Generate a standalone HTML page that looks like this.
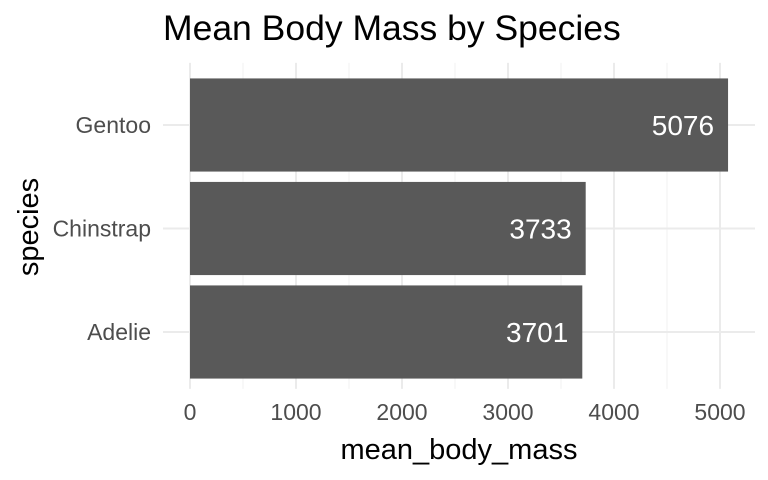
<!DOCTYPE html>
<html><head><meta charset="utf-8"><style>
body{margin:0;background:#fff;}
svg{display:block;font-family:"Liberation Sans",Arial,sans-serif;}
</style></head><body>
<svg id="chart" width="768" height="480" viewBox="0 0 768 480">
<text x="163" y="40" font-size="35.5" fill="#000">Mean Body Mass by Species</text>
<g id="grid"></g><g id="bars"></g><g id="labels"></g>
<text x="459" y="459" font-size="29" text-anchor="middle" fill="#000">mean_body_mass</text>
<text transform="translate(38,227) rotate(-90)" font-size="29" text-anchor="middle" fill="#000">species</text>
</svg>
<script>
const categories = ["Adelie","Chinstrap","Gentoo"];
const values = [3701,3733,5076];
const xTicks = [0,1000,2000,3000,4000,5000];
const xMinor = [500,1500,2500,3500,4500];
const NS="http://www.w3.org/2000/svg";
const x0=190, pxPer=0.106, pLeft=163, pRight=755;
const step=103.5, firstCenter=332;
const pTop=firstCenter-step*(categories.length-1)-step*0.6, pBottom=firstCenter+step*0.55;
function xs(v){return x0+v*pxPer;}
function ys(i){return firstCenter-step*i;}
function mk(tag,attrs,parent){const e=document.createElementNS(NS,tag);for(const k in attrs)e.setAttribute(k,attrs[k]);document.getElementById(parent).appendChild(e);return e;}
xMinor.forEach(v=>{const l=mk('line',{x1:xs(v),x2:xs(v),y1:pTop,y2:pBottom,stroke:'#f2f2f2','stroke-width':1},'grid');

});
xTicks.forEach(v=>{const l=mk('line',{x1:xs(v),x2:xs(v),y1:pTop,y2:pBottom,stroke:'#ebebeb','stroke-width':2},'grid');


const t=mk('text',{x:xs(v),y:420,'font-size':23,'text-anchor':'middle',fill:'#4d4d4d'},'labels');t.textContent=v;

});
categories.forEach((c,i)=>{const y=ys(i);
const l=mk('line',{x1:pLeft,x2:pRight,y1:y,y2:y,stroke:'#ebebeb','stroke-width':2},'grid');


const t=mk('text',{x:151,y:y+8,'font-size':23,'text-anchor':'end',fill:'#4d4d4d'},'labels');t.textContent=c;


const h=step*0.9;
const r=mk('rect',{x:xs(0),y:y-h/2,width:xs(values[i])-xs(0),height:h,fill:'#595959'},'bars');


const v=mk('text',{x:xs(values[i])-14,y:y+10,'font-size':28,'text-anchor':'end',fill:'#fff'},'labels');v.textContent=values[i];

});
</script>
</body></html>
